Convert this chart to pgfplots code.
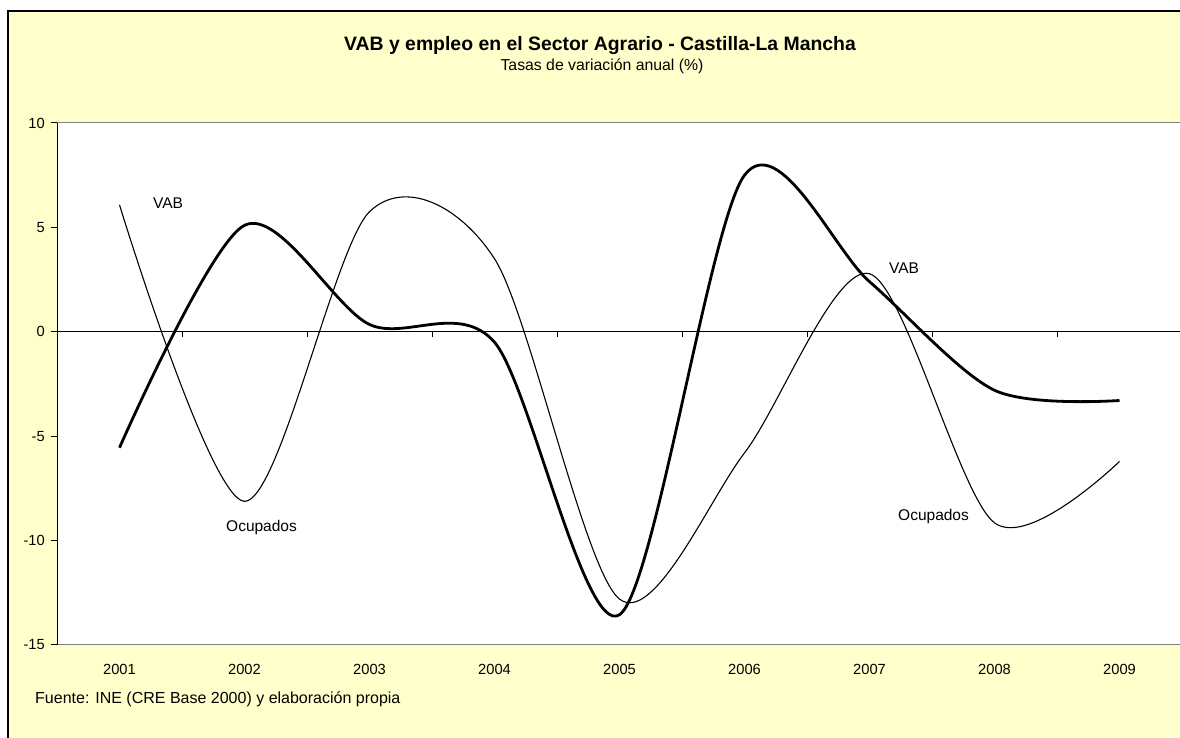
\documentclass[border=0pt]{standalone}
\usepackage{pgfplots}
\usepackage{pgfplotstable}
\pgfplotsset{compat=1.18}
\usepackage{fontspec}
\setmainfont{Liberation Sans}
\definecolor{bgyellow}{HTML}{FFFFCC}
\definecolor{framegray}{HTML}{808080}

\pgfplotstableread{
year thick thin
2001 -5.55 6.08
2002 5.10 -8.12
2003 0.35 5.75
2004 -0.50 3.50
2005 -13.55 -12.80
2006 7.50 -5.80
2007 2.40 2.78
2008 -2.80 -9.15
2009 -3.29 -6.21
}\datatable

\begin{document}
\begin{tikzpicture}[x=1pt,y=1pt]
\useasboundingbox (0,0) rectangle (1180,738);
\fill[white] (0,0) rectangle (1180,738);
\fill[bgyellow] (8,727) rectangle (1180,0);
\draw[black, line width=1.5pt] (8,0) -- (8,727) -- (1180,727);
\begin{axis}[
  at={(57pt,93pt)}, anchor=south west,
  scale only axis, width=1125pt, height=522pt,
  xmin=2000.5, xmax=2009.5, ymin=-15, ymax=10,
  axis background/.style={fill=white},
  axis x line*=box,
  axis y line*=left,
  x axis line style={draw=framegray, line width=1pt, -},
  y axis line style={draw=black, line width=1pt, -},
  xtick={2001,2002,2003,2004,2005,2006,2007,2008,2009},
  xticklabels={2001,2002,2003,2004,2005,2006,2007,2008,2009},
  xtick pos=bottom,
  xtick style={draw=none},
  xticklabel style={anchor=base, inner sep=0pt, yshift=-23.5pt},
  ytick={-15,-10,-5,0,5,10},
  yticklabels={-15,-10,-5,0,5,10},
  ytick pos=left,
  tick align=outside,
  major tick length=6pt,
  ytick style={black, line width=1pt},
  yticklabel style={anchor=east, inner sep=0pt, xshift=-6pt},
  tick label style={font=\fontsize{14.7}{17}\selectfont},
  clip=false,
]
\draw[black, line width=1pt] (axis cs:2000.5,0) -- (axis cs:2009.5,0);
\pgfplotsinvokeforeach{2001.5,2002.5,2003.5,2004.5,2005.5,2006.5,2007.5,2008.5}{
  \draw[black, line width=1pt] (axis cs:#1,0) -- ++(0pt,-5pt);
}
\addplot[black, line width=1.1pt, smooth, line join=round] table[x=year, y=thin] {\datatable};
\addplot[black, line width=2.8pt, smooth, line join=round] table[x=year, y=thick] {\datatable};
\end{axis}
\node[anchor=base, inner sep=0pt] at (600,687.3) {\fontsize{19.4}{22}\selectfont\bfseries VAB y empleo en el Sector Agrario - Castilla-La Mancha};
\node[anchor=base, inner sep=0pt] at (602,667) {\fontsize{15.8}{18}\selectfont Tasas de variación anual (\%)};
\node[anchor=base west, inner sep=0pt] at (35,34) {\fontsize{16}{18}\selectfont Fuente: INE (CRE Base 2000) y elaboración propia};
\node[anchor=base west, inner sep=0pt] at (153,529) {\fontsize{15.5}{18}\selectfont VAB};
\node[anchor=base west, inner sep=0pt] at (226,206.5) {\fontsize{15.5}{18}\selectfont Ocupados};
\node[anchor=base west, inner sep=0pt] at (889,464.7) {\fontsize{15.5}{18}\selectfont VAB};
\node[anchor=base west, inner sep=0pt] at (898,217.3) {\fontsize{15.5}{18}\selectfont Ocupados};
\end{tikzpicture}
\end{document}
